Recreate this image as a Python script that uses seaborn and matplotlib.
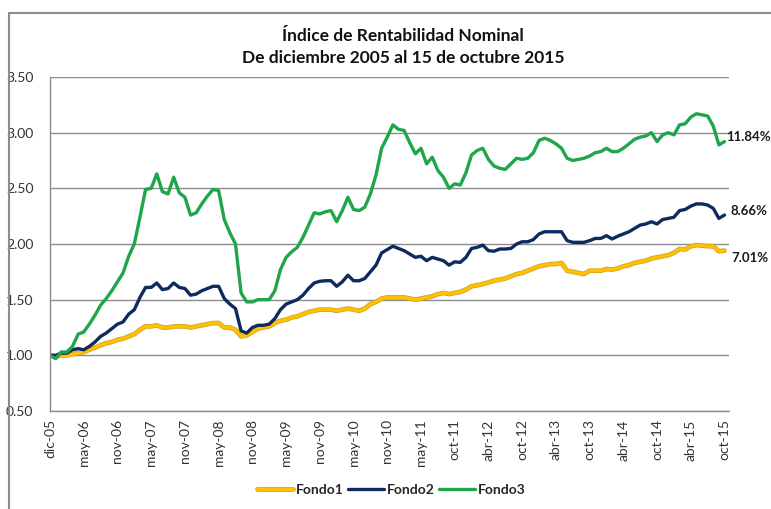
import numpy as np
import pandas as pd
import matplotlib.pyplot as plt
import matplotlib.patheffects as pe
from matplotlib.patches import Rectangle
import seaborn as sns

# Índice de rentabilidad nominal, base dic-05 = 1.00
fondo1 = [1.00, 0.99, 1.00, 1.00, 1.01, 1.02, 1.03, 1.05, 1.07, 1.09,
          1.11, 1.12, 1.14, 1.15, 1.17, 1.19, 1.23, 1.26, 1.26, 1.27,
          1.25, 1.25, 1.26, 1.26, 1.26, 1.25, 1.26, 1.27, 1.28, 1.29,
          1.29, 1.25, 1.25, 1.23, 1.17, 1.18, 1.21, 1.24, 1.25, 1.26,
          1.29, 1.31, 1.32, 1.34, 1.35, 1.37, 1.39, 1.40, 1.41, 1.41,
          1.41, 1.40, 1.41, 1.42, 1.41, 1.40, 1.42, 1.46, 1.48, 1.51,
          1.52, 1.52, 1.52, 1.52, 1.51, 1.50, 1.51, 1.52, 1.53, 1.55,
          1.56, 1.55, 1.56, 1.57, 1.59, 1.62, 1.63, 1.64, 1.655, 1.67,
          1.68, 1.69, 1.71, 1.73, 1.74, 1.76, 1.78, 1.80, 1.81, 1.82,
          1.82, 1.83, 1.76, 1.75, 1.74, 1.73, 1.76, 1.76, 1.76, 1.775,
          1.77, 1.78, 1.80, 1.81, 1.83, 1.84, 1.85, 1.87, 1.88, 1.89,
          1.90, 1.92, 1.955, 1.95, 1.98, 1.99, 1.985, 1.98, 1.98, 1.935,
          1.94]
fondo2 = [1.00, 1.00, 1.02, 1.02, 1.05, 1.06, 1.05, 1.08, 1.12, 1.17,
          1.20, 1.24, 1.28, 1.30, 1.37, 1.41, 1.52, 1.61, 1.61, 1.65,
          1.59, 1.60, 1.65, 1.61, 1.60, 1.54, 1.55, 1.58, 1.60, 1.62,
          1.62, 1.51, 1.46, 1.42, 1.22, 1.20, 1.25, 1.27, 1.27, 1.28,
          1.33, 1.41, 1.46, 1.48, 1.50, 1.54, 1.60, 1.65, 1.665, 1.67,
          1.67, 1.62, 1.66, 1.72, 1.67, 1.67, 1.69, 1.75, 1.81, 1.92,
          1.95, 1.98, 1.96, 1.94, 1.91, 1.88, 1.89, 1.85, 1.88, 1.865,
          1.85, 1.81, 1.84, 1.835, 1.88, 1.96, 1.97, 1.99, 1.94, 1.935,
          1.955, 1.955, 1.96, 2.00, 2.02, 2.02, 2.04, 2.09, 2.11, 2.11,
          2.11, 2.11, 2.03, 2.015, 2.015, 2.015, 2.03, 2.05, 2.05, 2.075,
          2.045, 2.07, 2.09, 2.11, 2.14, 2.17, 2.18, 2.20, 2.18, 2.22,
          2.23, 2.24, 2.30, 2.31, 2.34, 2.36, 2.36, 2.35, 2.32, 2.23,
          2.26]
fondo3 = [1.00, 0.97, 1.03, 1.03, 1.08, 1.19, 1.21, 1.28, 1.36, 1.45,
          1.51, 1.58, 1.66, 1.74, 1.89, 2.00, 2.24, 2.49, 2.50, 2.63,
          2.47, 2.45, 2.60, 2.46, 2.42, 2.26, 2.28, 2.36, 2.43, 2.49,
          2.48, 2.22, 2.10, 2.00, 1.56, 1.48, 1.48, 1.50, 1.50, 1.50,
          1.58, 1.77, 1.88, 1.93, 1.97, 2.06, 2.17, 2.28, 2.27, 2.29,
          2.30, 2.20, 2.30, 2.42, 2.31, 2.30, 2.33, 2.45, 2.62, 2.86,
          2.96, 3.07, 3.03, 3.02, 2.91, 2.81, 2.86, 2.72, 2.78, 2.66,
          2.60, 2.50, 2.54, 2.53, 2.64, 2.80, 2.84, 2.86, 2.76, 2.70,
          2.68, 2.67, 2.72, 2.77, 2.76, 2.77, 2.82, 2.93, 2.95, 2.93,
          2.90, 2.86, 2.77, 2.75, 2.76, 2.77, 2.79, 2.82, 2.83, 2.86,
          2.83, 2.83, 2.86, 2.90, 2.94, 2.96, 2.97, 3.00, 2.92, 2.98,
          3.00, 2.98, 3.07, 3.08, 3.14, 3.17, 3.16, 3.15, 3.06, 2.89,
          2.92]

series_names = ["Fondo1", "Fondo2", "Fondo3"]
end_labels = ["7.01%", "8.66%", "11.84%"]
tick_labels = ["dic-05", "may-06", "nov-06", "may-07", "nov-07", "may-08",
               "nov-08", "may-09", "nov-09", "may-10", "nov-10", "may-11",
               "oct-11", "abr-12", "oct-12", "abr-13", "oct-13", "abr-14",
               "oct-14", "abr-15", "oct-15"]

colors = {"Fondo1": "#FFC000", "Fondo2": "#0E2A5E", "Fondo3": "#1FA64A"}
GRID = "#8c8c8c"

sns.set_style("white")
plt.rcParams["font.family"] = ["Lato", "DejaVu Sans"]

periodo = np.arange(len(fondo1))
df = pd.DataFrame({
    "periodo": np.tile(periodo, 3),
    "valor": fondo1 + fondo2 + fondo3,
    "fondo": np.repeat(series_names, len(periodo)),
})

fig = plt.figure(figsize=(7.71, 5.09), dpi=100)
ax = fig.add_axes([50 / 771, 1 - 411 / 509, 679 / 771, 334 / 509])

sns.lineplot(data=df, x="periodo", y="valor", hue="fondo",
             hue_order=series_names, palette=colors, linewidth=2.4,
             ax=ax, legend=False)

# Fondo1 has a darker gold edge in the original
ax.lines[0].set_path_effects([pe.Stroke(linewidth=3.4, foreground="#C9A02E"),
                              pe.Normal()])

ax.set_xlim(0, 120.8)
ax.set_ylim(0.5, 3.5)
ax.set_yticks(np.arange(0.5, 3.51, 0.5))
ax.set_yticklabels([f"{v:.2f}" for v in np.arange(0.5, 3.51, 0.5)])
ax.set_xticks(periodo[::6])
ax.set_xticklabels(tick_labels, rotation=90)
ax.tick_params(axis="both", length=0, labelsize=10, labelcolor="#333333")
ax.tick_params(axis="y", pad=12)
ax.tick_params(axis="x", pad=6)
ax.set_xlabel("")
ax.set_ylabel("")

ax.yaxis.grid(True, color=GRID, linewidth=1)
ax.xaxis.grid(False)
for side in ["top", "right"]:
    ax.spines[side].set_visible(False)
for side in ["left", "bottom"]:
    ax.spines[side].set_color(GRID)
    ax.spines[side].set_linewidth(1)

# end-of-series labels
offsets = [(5, -5), (4, 3), (1.5, 3)]
for serie, lbl, off in zip([fondo1, fondo2, fondo3], end_labels, offsets):
    ax.annotate(lbl, xy=(periodo[-1], serie[-1]), xytext=off,
                textcoords="offset points", fontsize=9.5, fontweight="bold",
                color="#1a1a1a", va="center", ha="left", annotation_clip=False)

fig.text(403 / 771, 1 - 47 / 509,
         "Índice de Rentabilidad Nominal\nDe diciembre 2005 al 15 de octubre 2015",
         ha="center", va="center", fontsize=12.5, fontweight="bold",
         linespacing=1.45, color="#111111")

handles = ax.lines[:3]
fig.legend(handles, series_names, loc="center", ncol=3,
           bbox_to_anchor=(391 / 771, 1 - 490 / 509), frameon=False,
           handlelength=2.6, handletextpad=0.2, columnspacing=0.3,
           prop={"weight": "bold", "size": 10})

# chart-area border (cropped at right and bottom in the original)
fig.add_artist(Rectangle((9 / 771, -0.1), 1.1, 1.1 - 13 / 509,
                         transform=fig.transFigure, fill=False,
                         edgecolor=GRID, linewidth=1.5))

fig.savefig("out.png", dpi=100)
